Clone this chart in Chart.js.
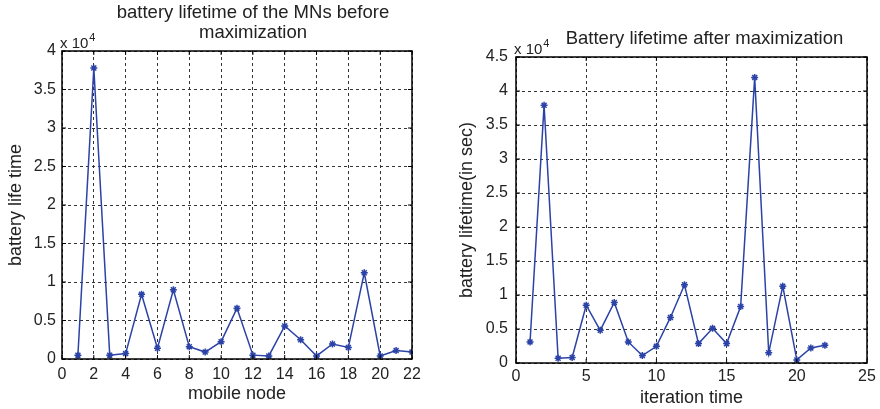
<!DOCTYPE html>
<html>
<head>
<meta charset="utf-8">
<script src="https://cdn.jsdelivr.net/npm/chart.js@4"></script>
<style>
  html, body { margin: 0; padding: 0; background: #fff; }
  .wrap { position: absolute; top: 0; width: 440px; height: 409px; }
</style>
</head>
<body>
<div class="wrap" style="left:0"><canvas id="before-chart" width="440" height="409"></canvas></div>
<div class="wrap" style="left:440px"><canvas id="after-chart" width="440" height="409"></canvas></div>
<script>
// values in seconds (axis shows x 10^4)
const nodes = [1, 2, 3, 4, 5, 6, 7, 8, 9, 10, 11, 12, 13, 14, 15, 16, 17, 18, 19, 20, 21, 22];
const beforeValues = [500, 37800, 500, 700, 8400, 1400, 9000, 1600, 900, 2250, 6600, 500, 400, 4300, 2500, 400, 1950, 1500, 11200, 400, 1100, 900];
const iterations = [1, 2, 3, 4, 5, 6, 7, 8, 9, 10, 11, 12, 13, 14, 15, 16, 17, 18, 19, 20, 21, 22];
const afterValues = [3100, 37900, 700, 800, 8500, 4800, 8900, 3100, 1100, 2450, 6700, 11500, 2850, 5100, 2850, 8300, 42000, 1500, 11300, 450, 2200, 2600];

const lineColor = "#2b43a6";
const fontFamily = "'Liberation Sans', Arial, sans-serif";

// black box + inward ticks + "x 10^4" label + title, matlab style
const matlabFrame = {
  id: "matlabFrame",
  afterDraw(chart, args, opts) {
    const ctx = chart.ctx;
    const a = chart.chartArea;
    const xs = chart.scales.x, ys = chart.scales.y;
    ctx.save();
    ctx.strokeStyle = "#000";
    ctx.lineWidth = 1.5;
    ctx.setLineDash([]);
    ctx.strokeRect(a.left, a.top, a.right - a.left, a.bottom - a.top);
    ctx.lineWidth = 1;
    ctx.beginPath();
    xs.ticks.forEach((t) => {
      let px = xs.getPixelForValue(t.value);
      ctx.moveTo(px, a.bottom); ctx.lineTo(px, a.bottom - 4);
      ctx.moveTo(px, a.top); ctx.lineTo(px, a.top + 4);
    });
    ys.ticks.forEach((t) => {
      let py = ys.getPixelForValue(t.value);
      ctx.moveTo(a.left, py); ctx.lineTo(a.left + 4, py);
      ctx.moveTo(a.right, py); ctx.lineTo(a.right - 4, py);
    });
    ctx.stroke();
    ctx.fillStyle = "#222";
    ctx.textBaseline = "alphabetic";
    ctx.textAlign = "left";
    ctx.font = "15px " + fontFamily;
    let tx = a.left - 2, ty = a.top - 3;
    ctx.fillText("x 10", tx, ty);
    let w = ctx.measureText("x 10").width;
    ctx.font = "11px " + fontFamily;
    ctx.fillText("4", tx + w + 1, ty - 7);
    // title
    ctx.font = "18.5px " + fontFamily;
    ctx.textAlign = "center";
    ctx.textBaseline = "middle";
    let cx = (a.left + a.right) / 2 + opts.shift;
    opts.lines.forEach((line, i) => {
      ctx.fillText(line, cx, opts.y0 + i * 20);
    });
    ctx.restore();
  },
};

function makeChart(id, labels, values, cfg) {
  let ctx = document.getElementById(id).getContext("2d");
  return new Chart(ctx, {
    type: "line",
    data: {
      datasets: [
        {
          data: labels.map((x, i) => ({ x: x, y: values[i] })),
          borderColor: lineColor,
          backgroundColor: lineColor,
          borderWidth: 1.5,
          pointStyle: "star",
          pointRadius: 3.5,
          pointBorderWidth: 1.5,
          tension: 0,
        },
      ],
    },
    plugins: [matlabFrame],
    options: {
      responsive: false,
      animation: false,
      layout: { padding: { left: 0, right: cfg.padRight, top: cfg.padTop, bottom: 0 } },
      plugins: {
        legend: { display: false },
        tooltip: { enabled: false },
        title: { display: false },
        matlabFrame: { lines: cfg.title, y0: cfg.titleY, shift: cfg.titleShift },
      },
      scales: {
        x: {
          type: "linear",
          min: cfg.xRange[0],
          max: cfg.xRange[1],
          ticks: { stepSize: cfg.xStep, color: "#222", padding: cfg.xTickPad, font: { family: fontFamily, size: 16 } },
          grid: { color: "#333", lineWidth: 1, drawTicks: false },
          border: { display: false, dash: [3, 3] },
          title: { display: true, text: cfg.xTitle, color: "#222", font: { family: fontFamily, size: 18 }, padding: { top: 0, bottom: cfg.xTitlePad } },
          afterFit: (s) => { s.height = cfg.xHeight; },
        },
        y: {
          min: 0,
          max: cfg.yMax,
          ticks: {
            stepSize: 5000,
            color: "#222",
            padding: cfg.yTickPad,
            font: { family: fontFamily, size: 16 },
            callback: (v) => String(v / 10000),
          },
          grid: { color: "#333", lineWidth: 1, drawTicks: false },
          border: { display: false, dash: [3, 3] },
          title: { display: true, text: cfg.yTitle, color: "#222", font: { family: fontFamily, size: 18 }, padding: { top: cfg.yTitlePad, bottom: 0 } },
          afterFit: (s) => { s.width = cfg.yWidth; },
        },
      },
    },
  });
}

makeChart("before-chart", nodes, beforeValues, {
  title: ["battery lifetime of the MNs before", "maximization"],
  titleY: 13, titleShift: 16, padTop: 51,
  xTitle: "mobile node",
  yTitle: "battery life time",
  xRange: [0, 22], xStep: 2, yMax: 40000,
  padRight: 28, yWidth: 62, xHeight: 50,
  xTickPad: 6, xTitlePad: 4, yTickPad: 6, yTitlePad: 5,
});

makeChart("after-chart", iterations, afterValues, {
  title: ["Battery lifetime after maximization"],
  titleY: 39, titleShift: 13, padTop: 57,
  xTitle: "iteration time",
  yTitle: "battery lifetime(in sec)",
  xRange: [0, 25], xStep: 5, yMax: 45000,
  padRight: 13, yWidth: 76, xHeight: 46,
  xTickPad: 4, xTitlePad: 0, yTickPad: 8, yTitlePad: 16,
});
</script>
</body>
</html>
